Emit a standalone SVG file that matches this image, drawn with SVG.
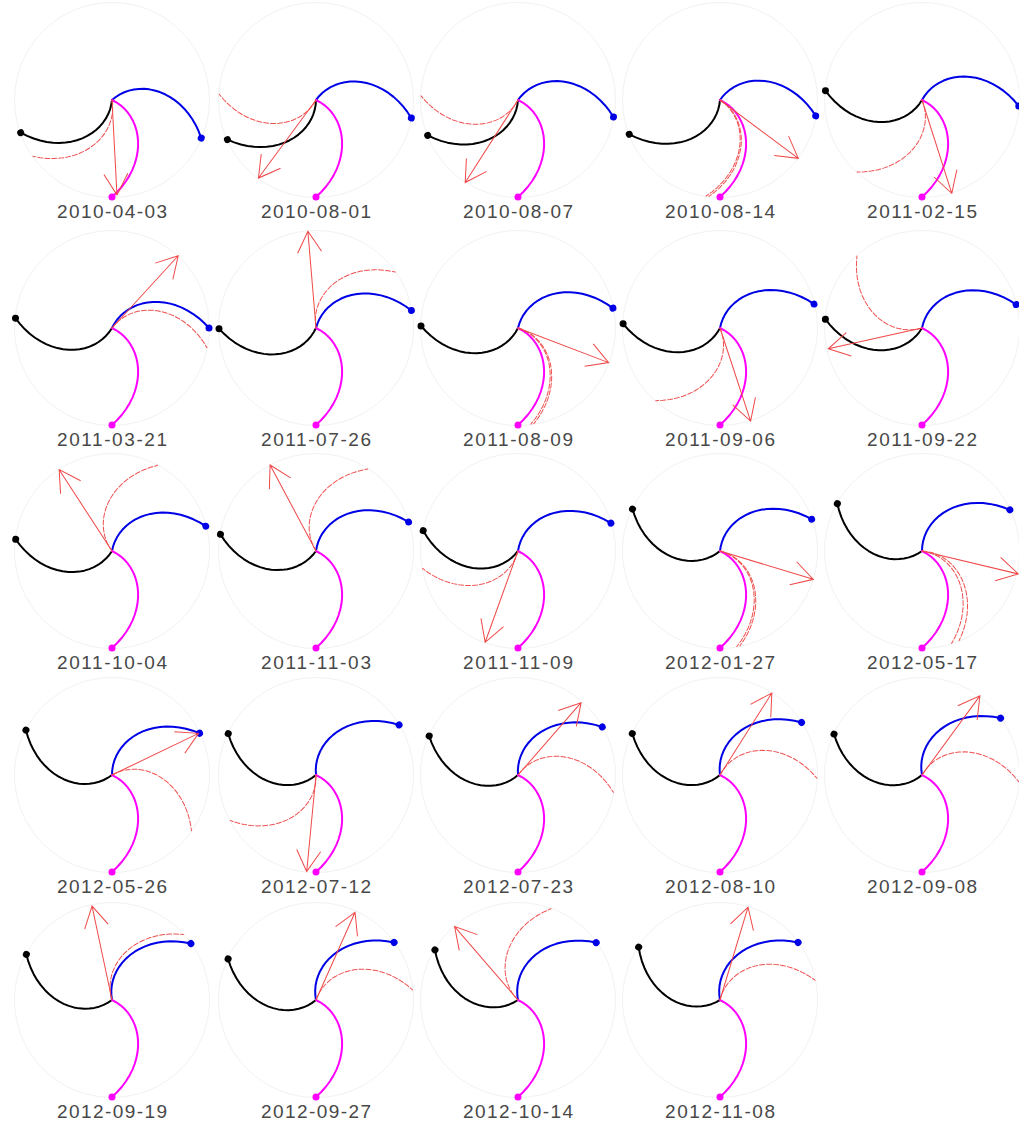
<svg xmlns="http://www.w3.org/2000/svg" xmlns:xlink="http://www.w3.org/1999/xlink" width="1019" height="1123" viewBox="0 0 1019 1123">
<style>
.ring{fill:none;stroke:#f2f2f2;stroke-width:1}
.k{stroke:#000;fill:#000;stroke-width:2}
.b{stroke:#0000e6;fill:#0000e6;stroke-width:2}
.m{stroke:#ff00ff;fill:#ff00ff;stroke-width:2}
.d{fill:none;stroke:#f05050;stroke-width:1;stroke-dasharray:5 2}
.a{fill:none;stroke:#f04848;stroke-width:1}
.t{font-family:"Liberation Sans",Arial,sans-serif;font-size:19px;fill:#484848;text-anchor:middle}
</style>
<defs>
<polyline id="sp" fill="none" stroke-linejoin="round" stroke-linecap="round" points="0,0 2.3,-4.27 5.07,-8.27 8.29,-11.95 11.94,-15.29 15.99,-18.23 20.4,-20.76 25.13,-22.83 30.15,-24.42 35.43,-25.5 40.9,-26.06 46.55,-26.07 52.31,-25.51 58.14,-24.38 64,-22.67 69.84,-20.36 75.61,-17.46 81.26,-13.96 86.74,-9.88 92,-5.22 97,0"/>
<g id="arm"><use xlink:href="#sp"/><circle cx="97" cy="0" r="3.5" stroke="none"/></g>
</defs>

<g id="p01" transform="translate(112,100)">
<circle class="ring" r="97.5"/>
<use xlink:href="#arm" class="k" transform="rotate(160.3)"/>
<use xlink:href="#arm" class="b" transform="rotate(23.1)"/>
<use xlink:href="#arm" class="m" transform="rotate(90)"/>
<use xlink:href="#sp" class="d" transform="rotate(144.5)"/>
<path class="a" transform="rotate(87)" d="M0,0H95M74,-12L95,0L74,12"/>
<text class="t" y="118" textLength="110">2010-04-03</text>
</g>
<g id="p02" transform="translate(316,100)">
<circle class="ring" r="97.5"/>
<use xlink:href="#arm" class="k" transform="rotate(155.9)"/>
<use xlink:href="#arm" class="b" transform="rotate(10.7)"/>
<use xlink:href="#arm" class="m" transform="rotate(90)"/>
<use xlink:href="#sp" class="d" transform="rotate(183.4)"/>
<path class="a" transform="rotate(126.4)" d="M0,0H97M76,-12L97,0L76,12"/>
<text class="t" y="118" textLength="110">2010-08-01</text>
</g>
<g id="p03" transform="translate(518,100)">
<circle class="ring" r="97.5"/>
<use xlink:href="#arm" class="k" transform="rotate(158.6)"/>
<use xlink:href="#arm" class="b" transform="rotate(10.1)"/>
<use xlink:href="#arm" class="m" transform="rotate(90)"/>
<use xlink:href="#sp" class="d" transform="rotate(182.4)"/>
<path class="a" transform="rotate(122.6)" d="M0,0H98M77,-12L98,0L77,12"/>
<text class="t" y="118" textLength="110">2010-08-07</text>
</g>
<g id="p04" transform="translate(720,100)">
<circle class="ring" r="97.5"/>
<use xlink:href="#arm" class="k" transform="rotate(159.3)"/>
<use xlink:href="#arm" class="b" transform="rotate(9.4)"/>
<use xlink:href="#arm" class="m" transform="rotate(90)"/>
<use xlink:href="#sp" class="d" transform="rotate(96.5)"/>
<use xlink:href="#sp" class="d" transform="rotate(98.2)"/>
<path class="a" transform="rotate(36.7)" d="M0,0H97.6M76.6,-12L97.6,0L76.6,12"/>
<text class="t" y="118" textLength="110">2010-08-14</text>
</g>
<g id="p05" transform="translate(922,100)">
<circle class="ring" r="97.5"/>
<use xlink:href="#arm" class="k" transform="rotate(185.5)"/>
<use xlink:href="#arm" class="b" transform="rotate(3.6)"/>
<use xlink:href="#arm" class="m" transform="rotate(90)"/>
<use xlink:href="#sp" class="d" transform="rotate(132)"/>
<path class="a" transform="rotate(72.3)" d="M0,0H98M77,-12L98,0L77,12"/>
<text class="t" y="118" textLength="110">2011-02-15</text>
</g>

<g id="p06" transform="translate(112,328)">
<circle class="ring" r="97.5"/>
<use xlink:href="#arm" class="k" transform="rotate(185.8)"/>
<use xlink:href="#arm" class="b" transform="rotate(0)"/>
<use xlink:href="#arm" class="m" transform="rotate(90)"/>
<use xlink:href="#sp" class="d" transform="rotate(11.7)"/>
<path class="a" transform="rotate(-47.5)" d="M0,0H98M77,-12L98,0L77,12"/>
<text class="t" y="118" textLength="110">2011-03-21</text>
</g>
<g id="p07" transform="translate(316,328)">
<circle class="ring" r="97.5"/>
<use xlink:href="#arm" class="k" transform="rotate(179.6)"/>
<use xlink:href="#arm" class="b" transform="rotate(-10.4)"/>
<use xlink:href="#arm" class="m" transform="rotate(90)"/>
<use xlink:href="#sp" class="d" transform="rotate(-35.2)"/>
<path class="a" transform="rotate(-94.8)" d="M0,0H97M76,-12L97,0L76,12"/>
<text class="t" y="118" textLength="110">2011-07-26</text>
</g>
<g id="p08" transform="translate(518,328)">
<circle class="ring" r="97.5"/>
<use xlink:href="#arm" class="k" transform="rotate(181.2)"/>
<use xlink:href="#arm" class="b" transform="rotate(-11.8)"/>
<use xlink:href="#arm" class="m" transform="rotate(90)"/>
<use xlink:href="#sp" class="d" transform="rotate(80.6)"/>
<use xlink:href="#sp" class="d" transform="rotate(82.4)"/>
<path class="a" transform="rotate(20.9)" d="M0,0H97M76,-12L97,0L76,12"/>
<text class="t" y="118" textLength="110">2011-08-09</text>
</g>
<g id="p09" transform="translate(720,328)">
<circle class="ring" r="97.5"/>
<use xlink:href="#arm" class="k" transform="rotate(182.5)"/>
<use xlink:href="#arm" class="b" transform="rotate(-14.3)"/>
<use xlink:href="#arm" class="m" transform="rotate(90)"/>
<use xlink:href="#sp" class="d" transform="rotate(131.5)"/>
<path class="a" transform="rotate(71.8)" d="M0,0H98M77,-12L98,0L77,12"/>
<text class="t" y="118" textLength="110">2011-09-06</text>
</g>
<g id="p10" transform="translate(922,328)">
<circle class="ring" r="97.5"/>
<use xlink:href="#arm" class="k" transform="rotate(185.2)"/>
<use xlink:href="#arm" class="b" transform="rotate(-14)"/>
<use xlink:href="#arm" class="m" transform="rotate(90)"/>
<use xlink:href="#sp" class="d" transform="rotate(227.9)"/>
<path class="a" transform="rotate(167.5)" d="M0,0H96M75,-12L96,0L75,12"/>
<text class="t" y="118" textLength="110">2011-09-22</text>
</g>

<g id="p11" transform="translate(112,551)">
<circle class="ring" r="97.5"/>
<use xlink:href="#arm" class="k" transform="rotate(186.9)"/>
<use xlink:href="#arm" class="b" transform="rotate(-14.8)"/>
<use xlink:href="#arm" class="m" transform="rotate(90)"/>
<use xlink:href="#sp" class="d" transform="rotate(-62)"/>
<path class="a" transform="rotate(-123)" d="M0,0H97M76,-12L97,0L76,12"/>
<text class="t" y="118" textLength="110">2011-10-04</text>
</g>
<g id="p12" transform="translate(316,551)">
<circle class="ring" r="97.5"/>
<use xlink:href="#arm" class="k" transform="rotate(189.9)"/>
<use xlink:href="#arm" class="b" transform="rotate(-17.4)"/>
<use xlink:href="#arm" class="m" transform="rotate(90)"/>
<use xlink:href="#sp" class="d" transform="rotate(-57.7)"/>
<path class="a" transform="rotate(-118.1)" d="M0,0H97.5M76.5,-12L97.5,0L76.5,12"/>
<text class="t" y="118" textLength="110">2011-11-03</text>
</g>
<g id="p13" transform="translate(518,551)">
<circle class="ring" r="97.5"/>
<use xlink:href="#arm" class="k" transform="rotate(192.1)"/>
<use xlink:href="#arm" class="b" transform="rotate(-16.7)"/>
<use xlink:href="#arm" class="m" transform="rotate(90)"/>
<use xlink:href="#sp" class="d" transform="rotate(169.6)"/>
<path class="a" transform="rotate(109.8)" d="M0,0H97M76,-12L97,0L76,12"/>
<text class="t" y="118" textLength="110">2011-11-09</text>
</g>
<g id="p14" transform="translate(720,551)">
<circle class="ring" r="97.5"/>
<use xlink:href="#arm" class="k" transform="rotate(205.6)"/>
<use xlink:href="#arm" class="b" transform="rotate(-19.1)"/>
<use xlink:href="#arm" class="m" transform="rotate(90)"/>
<use xlink:href="#sp" class="d" transform="rotate(78.2)"/>
<use xlink:href="#sp" class="d" transform="rotate(80)"/>
<path class="a" transform="rotate(16.9)" d="M0,0H97.5M76.5,-12L97.5,0L76.5,12"/>
<text class="t" y="118" textLength="110">2012-01-27</text>
</g>
<g id="p15" transform="translate(922,551)">
<circle class="ring" r="97.5"/>
<use xlink:href="#arm" class="k" transform="rotate(209.2)"/>
<use xlink:href="#arm" class="b" transform="rotate(-25.1)"/>
<use xlink:href="#arm" class="m" transform="rotate(90)"/>
<use xlink:href="#sp" class="d" transform="rotate(72.2)"/>
<use xlink:href="#sp" class="d" transform="rotate(67.5)"/>
<path class="a" transform="rotate(13.4)" d="M0,0H99M78,-12L99,0L78,12"/>
<text class="t" y="118" textLength="110">2012-05-17</text>
</g>

<g id="p16" transform="translate(112,775)">
<circle class="ring" r="97.5"/>
<use xlink:href="#arm" class="k" transform="rotate(207.5)"/>
<use xlink:href="#arm" class="b" transform="rotate(-25.5)"/>
<use xlink:href="#arm" class="m" transform="rotate(90)"/>
<use xlink:href="#sp" class="d" transform="rotate(35)"/>
<path class="a" transform="rotate(-25.7)" d="M0,0H96M75,-12L96,0L75,12"/>
<text class="t" y="118" textLength="110">2012-05-26</text>
</g>
<g id="p17" transform="translate(316,775)">
<circle class="ring" r="97.5"/>
<use xlink:href="#arm" class="k" transform="rotate(205.2)"/>
<use xlink:href="#arm" class="b" transform="rotate(-31.1)"/>
<use xlink:href="#arm" class="m" transform="rotate(90)"/>
<use xlink:href="#sp" class="d" transform="rotate(152)"/>
<path class="a" transform="rotate(95.5)" d="M0,0H97M76,-12L97,0L76,12"/>
<text class="t" y="118" textLength="110">2012-07-12</text>
</g>
<g id="p18" transform="translate(518,775)">
<circle class="ring" r="97.5"/>
<use xlink:href="#arm" class="k" transform="rotate(203.7)"/>
<use xlink:href="#arm" class="b" transform="rotate(-29.7)"/>
<use xlink:href="#arm" class="m" transform="rotate(90)"/>
<use xlink:href="#sp" class="d" transform="rotate(10.3)"/>
<path class="a" transform="rotate(-48.9)" d="M0,0H96M75,-12L96,0L75,12"/>
<text class="t" y="118" textLength="110">2012-07-23</text>
</g>
<g id="p19" transform="translate(720,775)">
<circle class="ring" r="97.5"/>
<use xlink:href="#arm" class="k" transform="rotate(205.3)"/>
<use xlink:href="#arm" class="b" transform="rotate(-32.8)"/>
<use xlink:href="#arm" class="m" transform="rotate(90)"/>
<use xlink:href="#sp" class="d" transform="rotate(1.9)"/>
<path class="a" transform="rotate(-57.7)" d="M0,0H97M76,-12L97,0L76,12"/>
<text class="t" y="118" textLength="110">2012-08-10</text>
</g>
<g id="p20" transform="translate(922,775)">
<circle class="ring" r="97.5"/>
<use xlink:href="#arm" class="k" transform="rotate(204.9)"/>
<use xlink:href="#arm" class="b" transform="rotate(-35.9)"/>
<use xlink:href="#arm" class="m" transform="rotate(90)"/>
<use xlink:href="#sp" class="d" transform="rotate(4)"/>
<path class="a" transform="rotate(-53.8)" d="M0,0H98M77,-12L98,0L77,12"/>
<text class="t" y="118" textLength="110">2012-09-08</text>
</g>

<g id="p21" transform="translate(112,1000)">
<circle class="ring" r="97.5"/>
<use xlink:href="#arm" class="k" transform="rotate(208)"/>
<use xlink:href="#arm" class="b" transform="rotate(-35.6)"/>
<use xlink:href="#arm" class="m" transform="rotate(90)"/>
<use xlink:href="#sp" class="d" transform="rotate(-42.5)"/>
<path class="a" transform="rotate(-102)" d="M0,0H96M75,-12L96,0L75,12"/>
<text class="t" y="118" textLength="110">2012-09-19</text>
</g>
<g id="p22" transform="translate(316,1000)">
<circle class="ring" r="97.5"/>
<use xlink:href="#arm" class="k" transform="rotate(205)"/>
<use xlink:href="#arm" class="b" transform="rotate(-36.4)"/>
<use xlink:href="#arm" class="m" transform="rotate(90)"/>
<use xlink:href="#sp" class="d" transform="rotate(-6)"/>
<path class="a" transform="rotate(-66)" d="M0,0H96M75,-12L96,0L75,12"/>
<text class="t" y="118" textLength="110">2012-09-27</text>
</g>
<g id="p23" transform="translate(518,1000)">
<circle class="ring" r="97.5"/>
<use xlink:href="#arm" class="k" transform="rotate(211.1)"/>
<use xlink:href="#arm" class="b" transform="rotate(-36.3)"/>
<use xlink:href="#arm" class="m" transform="rotate(90)"/>
<use xlink:href="#sp" class="d" transform="rotate(-70.2)"/>
<path class="a" transform="rotate(-130.8)" d="M0,0H97M76,-12L97,0L76,12"/>
<text class="t" y="118" textLength="110">2012-10-14</text>
</g>
<g id="p24" transform="translate(720,1000)">
<circle class="ring" r="97.5"/>
<use xlink:href="#arm" class="k" transform="rotate(213)"/>
<use xlink:href="#arm" class="b" transform="rotate(-36.4)"/>
<use xlink:href="#arm" class="m" transform="rotate(90)"/>
<use xlink:href="#sp" class="d" transform="rotate(-11.8)"/>
<path class="a" transform="rotate(-73.2)" d="M0,0H97M76,-12L97,0L76,12"/>
<text class="t" y="118" textLength="110">2012-11-08</text>
</g>
</svg>
